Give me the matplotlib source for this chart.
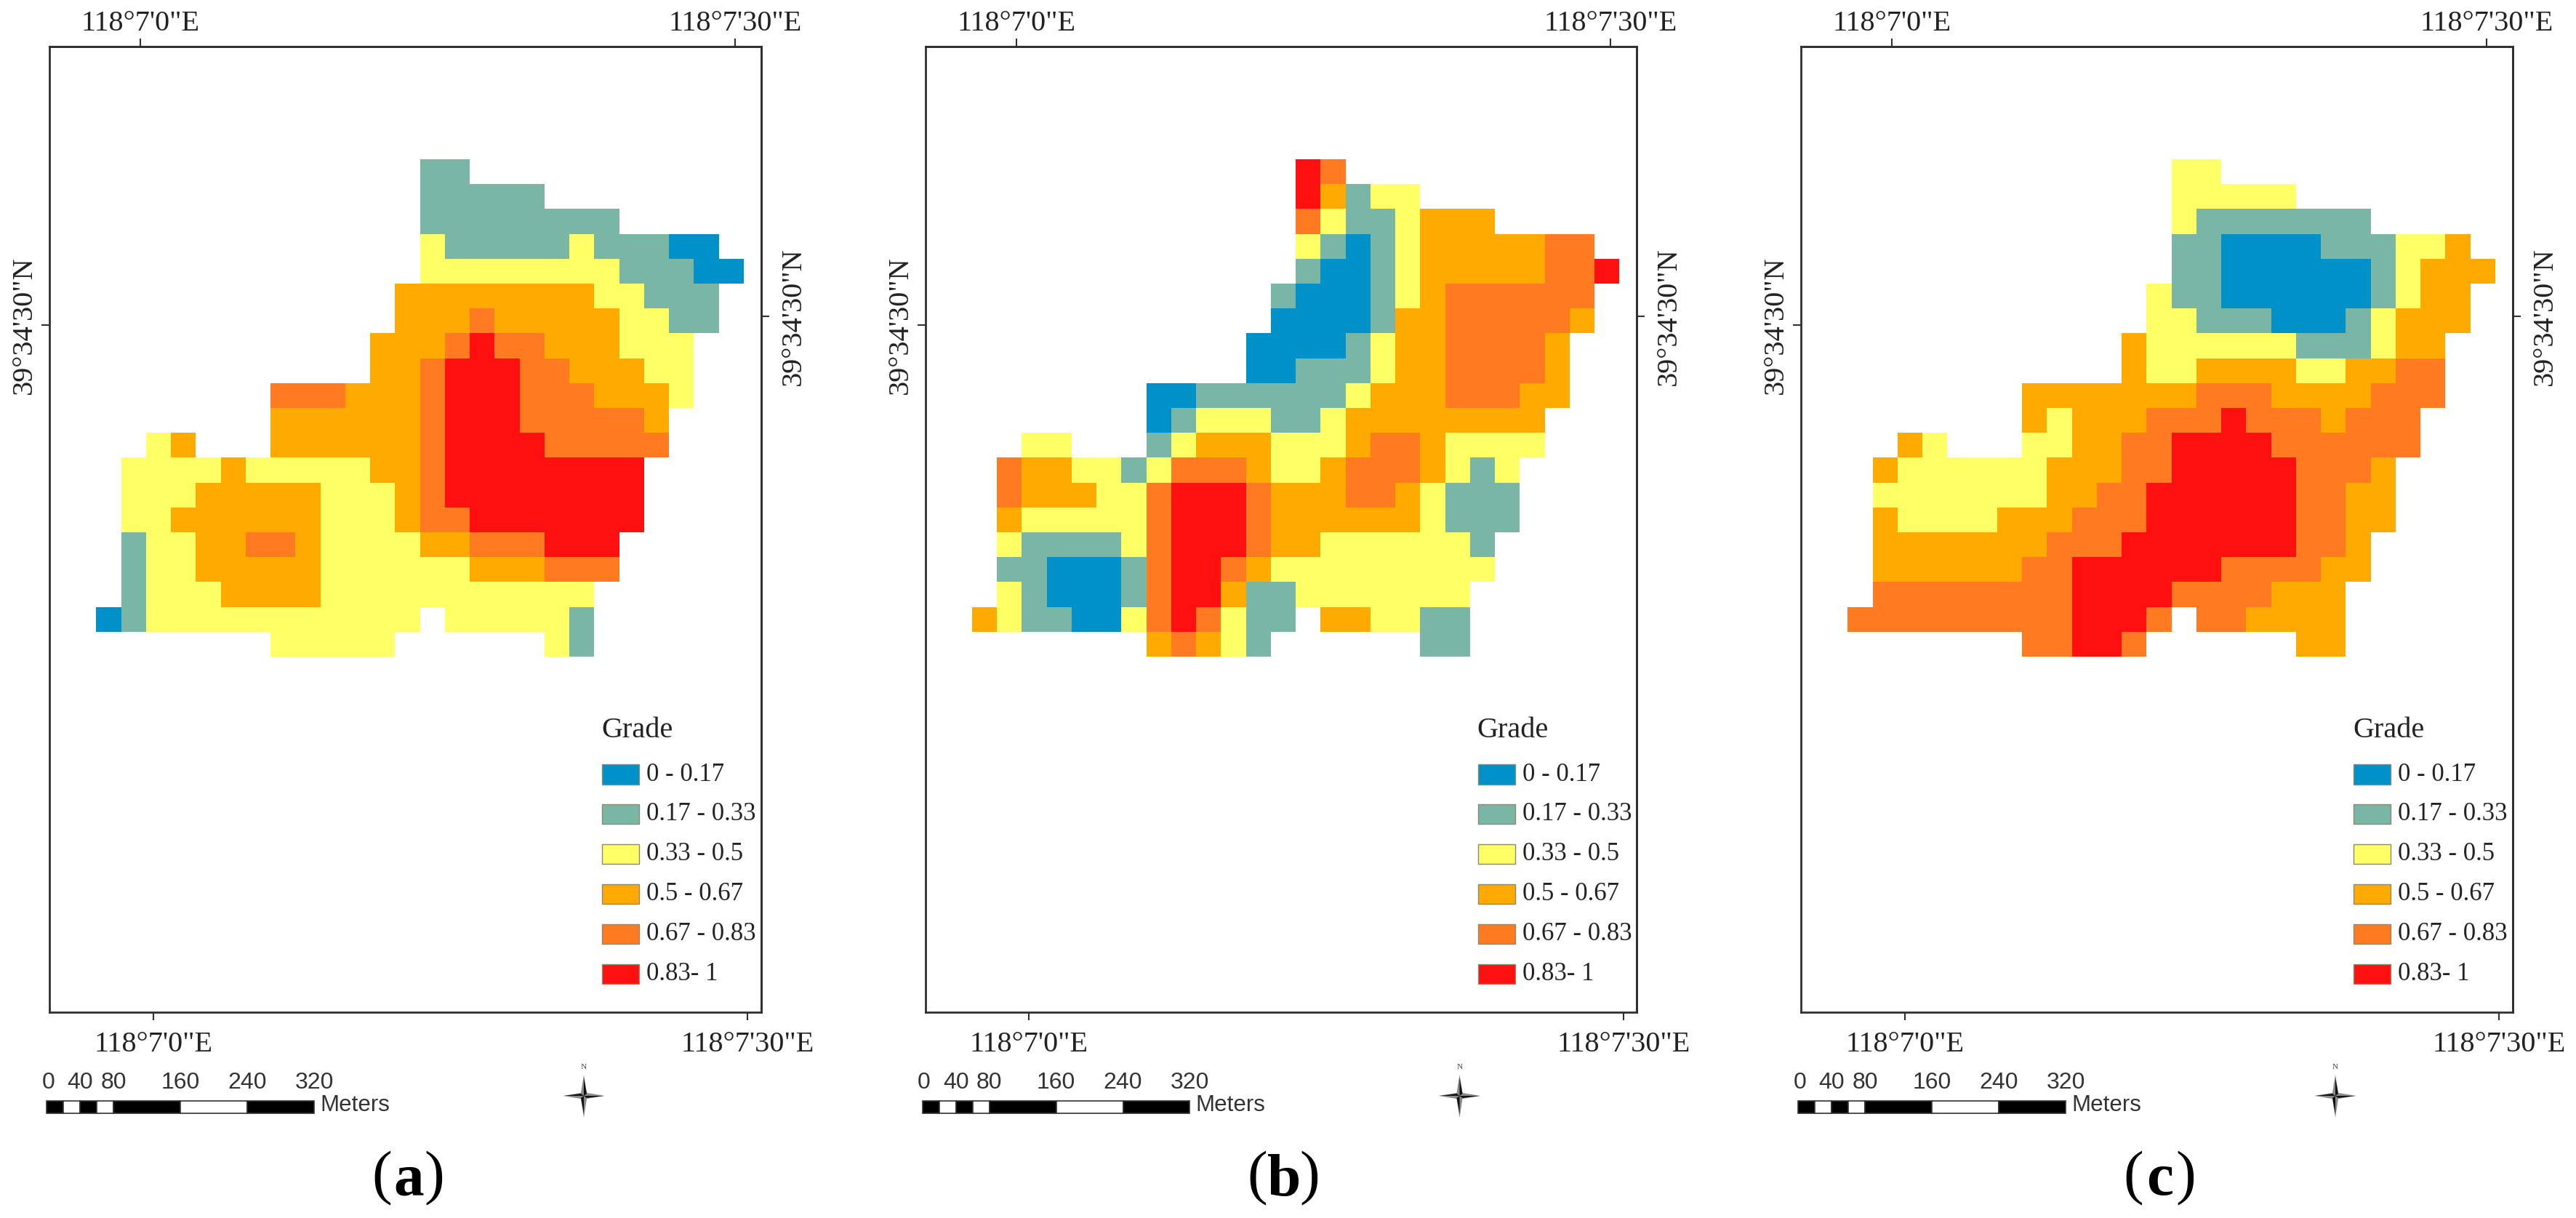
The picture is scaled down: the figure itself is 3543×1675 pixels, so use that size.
import numpy as np
import matplotlib
matplotlib.use("Agg")
from matplotlib import pyplot as plt
from matplotlib.colors import ListedColormap
from matplotlib.patches import Rectangle, Polygon

plt.rcParams["font.family"] = ["Liberation Serif", "DejaVu Serif"]

grade_colors = ["#0091C8", "#7AB6A5", "#FFFF66", "#FFAA00", "#FF7A20", "#FF1010"]
grade_labels = ["0 - 0.17", "0.17 - 0.33", "0.33 - 0.5", "0.5 - 0.67", "0.67 - 0.83", "0.83- 1"]
panel_names = ["a", "b", "c"]

# one character per cell, digit = grade class, dot = no data
grid_a = [
    ".............11",
    ".............11111",
    ".............11111111",
    ".............211111211100",
    ".............2222222211100",
    "............3333333322111",
    "............3334333332211",
    "...........3334544333222",
    "...........3345554433322",
    ".......44433345554443332",
    ".......3333334555444443",
    "..23...3333334555544444",
    ".222232222233455555555",
    ".222333332223455555555",
    ".223333332223445555555",
    ".12233443222233444555",
    ".12233333222222333444",
    ".1222333322222222222",
    "0122222222222.222221",
    ".......22222......21",
]
grid_b = [
    ".............54",
    ".............53122",
    ".............42112333",
    ".............210123333344",
    ".............1001233333445",
    "............1000123444444",
    "............0000133444443",
    "...........0000123344443",
    "...........0011123344443",
    ".......00111111233344433",
    ".......0122211233333333",
    "..22...1233322234432222",
    ".433221244432234443212",
    ".433322455543334432111",
    ".322222455543333332111",
    ".21111245554332222221",
    ".11000145543222222222",
    ".2100014553112222222",
    "3211002454211.332211",
    ".......34321......11",
]
grid_c = [
    ".............22",
    ".............22222",
    ".............21111111",
    ".............110000111223",
    ".............1100000012333",
    "............2110000001233",
    "............2211100012333",
    "...........3222222111233",
    "...........3223333223344",
    ".......33333334443333444",
    ".......3233344454443444",
    "..32...2233445555444444",
    ".322222233344555554443",
    ".222222233445555554433",
    ".322223334445555554433",
    ".33333334445555555443",
    ".33333344555555444433",
    ".4444444455554444333",
    "4444444445554.443333",
    ".......44554......33",
]

lon_labels = ["118°7'0\"E", "118°7'30\"E"]
lat_label = "39°34'30\"N"
# the map grid is slightly rotated, so opposite sides tick at different places
lon_ticks_bottom = [2.29, 26.16]
lon_ticks_top = [1.78, 25.65]
lat_tick_left = [6.67]
lat_tick_right = [6.32]

scale_marks = [0, 20, 40, 60, 80, 160, 240, 320]
scale_labels = [0, 40, 80, 160, 240, 320]

W, H = 3543, 1675
fig = plt.figure(figsize=(W / 100, H / 100), dpi=100)
cmap = ListedColormap(grade_colors)
frame_color = "#303030"
txt_color = "#222222"


def to_array(rows):
    out = np.full((20, 26), np.nan)
    for r, row in enumerate(rows):
        for c, ch in enumerate(row):
            if ch != ".":
                out[r, c] = int(ch)
    return np.ma.masked_invalid(out)


def draw_map(rows, dx):
    ax = fig.add_axes([(68 + dx) / W, 1 - 1392 / H, 978.5 / W, 1328 / H])
    ax.pcolormesh(np.arange(27), np.arange(21), to_array(rows), cmap=cmap, vmin=-0.5, vmax=5.5,
                  antialiased=False, linewidth=0)
    ax.set_xlim(-1.88, 26.69)
    ax.set_ylim(34.3, -4.53)
    ax.set_xticks(lon_ticks_bottom, lon_labels)
    ax.set_yticks(lat_tick_left, [lat_label])
    ax.tick_params(length=8, width=1.5, color=frame_color, labelsize=29, labelcolor=txt_color, pad=11)
    ax.tick_params(axis="y", labelrotation=90, pad=3.5)
    for lab in ax.get_yticklabels():
        lab.set_va("center")
    top = ax.secondary_xaxis("top")
    top.set_xticks(lon_ticks_top, lon_labels)
    top.tick_params(length=8, width=1.5, color=frame_color, labelsize=29, labelcolor=txt_color, pad=1)
    right = ax.secondary_yaxis("right")
    right.set_yticks(lat_tick_right, [lat_label])
    right.tick_params(length=8, width=1.5, color=frame_color, labelsize=29, labelcolor=txt_color, pad=11,
                      labelrotation=90)
    for lab in right.get_yticklabels():
        lab.set_va("center")
    for sp in ax.spines.values():
        sp.set_linewidth(2)
        sp.set_color(frame_color)
    for sec in (top, right):
        for sp in sec.spines.values():
            sp.set_linewidth(2)
            sp.set_color(frame_color)


# overlay in figure pixels for the legend, scale bar, north arrow and panel letters
over = fig.add_axes([0, 0, 1, 1], zorder=5)
over.set_xlim(0, W)
over.set_ylim(H, 0)
over.axis("off")


def draw_extras(name, dx):
    over.text(827 + dx, 1004, "Grade", fontsize=29, va="center", ha="left", color=txt_color)
    for i, (col, lab) in enumerate(zip(grade_colors, grade_labels)):
        y = 1051 + i * 54.9
        over.add_patch(Rectangle((828 + dx, y), 51, 27.5, facecolor=col, edgecolor="#8a8a70", linewidth=1))
        over.text(889 + dx, y + 14, lab, fontsize=25, va="center", ha="left", color=txt_color)

    # scale bar, 1.149 px per metre
    x0 = 64.3 + dx
    for i in range(len(scale_marks) - 1):
        a, b = scale_marks[i], scale_marks[i + 1]
        over.add_patch(Rectangle((x0 + a * 1.149, 1514), (b - a) * 1.149, 17,
                                 facecolor="black" if i % 2 == 0 else "white", edgecolor="#333333", linewidth=1.2))
    for v in scale_labels:
        over.text(x0 + v * 1.149 + (2 if v == 0 else 0), 1489, str(v), fontsize=23, family="Liberation Sans",
                  ha="center", va="center", color="#333333")
    over.text(440 + dx, 1520, "Meters", fontsize=22.5, family="Liberation Sans", ha="left", va="center",
              color="#333333")

    # north arrow
    cx, cy = 803 + dx, 1507
    over.add_patch(Polygon([(cx, cy - 29), (cx + 4, cy - 4), (cx + 29, cy), (cx + 4, cy + 4), (cx, cy + 30),
                            (cx - 4, cy + 4), (cx - 29, cy), (cx - 4, cy - 4)], facecolor="#8a8a8a", edgecolor="none"))
    over.add_patch(Polygon([(cx, cy - 25), (cx + 4, cy - 3), (cx, cy)], facecolor="#111111", edgecolor="none"))
    over.add_patch(Polygon([(cx, cy + 25), (cx - 4, cy + 3), (cx, cy)], facecolor="#111111", edgecolor="none"))
    over.add_patch(Polygon([(cx - 27, cy), (cx - 4, cy - 3), (cx, cy)], facecolor="#111111", edgecolor="none"))
    over.add_patch(Polygon([(cx + 27, cy), (cx + 4, cy + 3), (cx, cy)], facecolor="#111111", edgecolor="none"))
    over.text(cx, 1468, "N", fontsize=8, ha="center", va="center", color="#444444")

    # panel letter: bold letter between regular brackets
    lx, ly = 562 + dx, 1621
    over.text(lx - 23, ly, "(", fontsize=60, ha="right", va="center", color="black")
    over.text(lx, ly + 3, name, fontsize=60, fontweight="bold", ha="center", va="center", color="black")
    over.text(lx + 21, ly, ")", fontsize=60, ha="left", va="center", color="black")


offsets = [0, 1204.5, 2409]
for rows, name, dx in zip([grid_a, grid_b, grid_c], panel_names, offsets):
    draw_map(rows, dx)
    draw_extras(name, dx)

fig.savefig("out.png", dpi=100)
